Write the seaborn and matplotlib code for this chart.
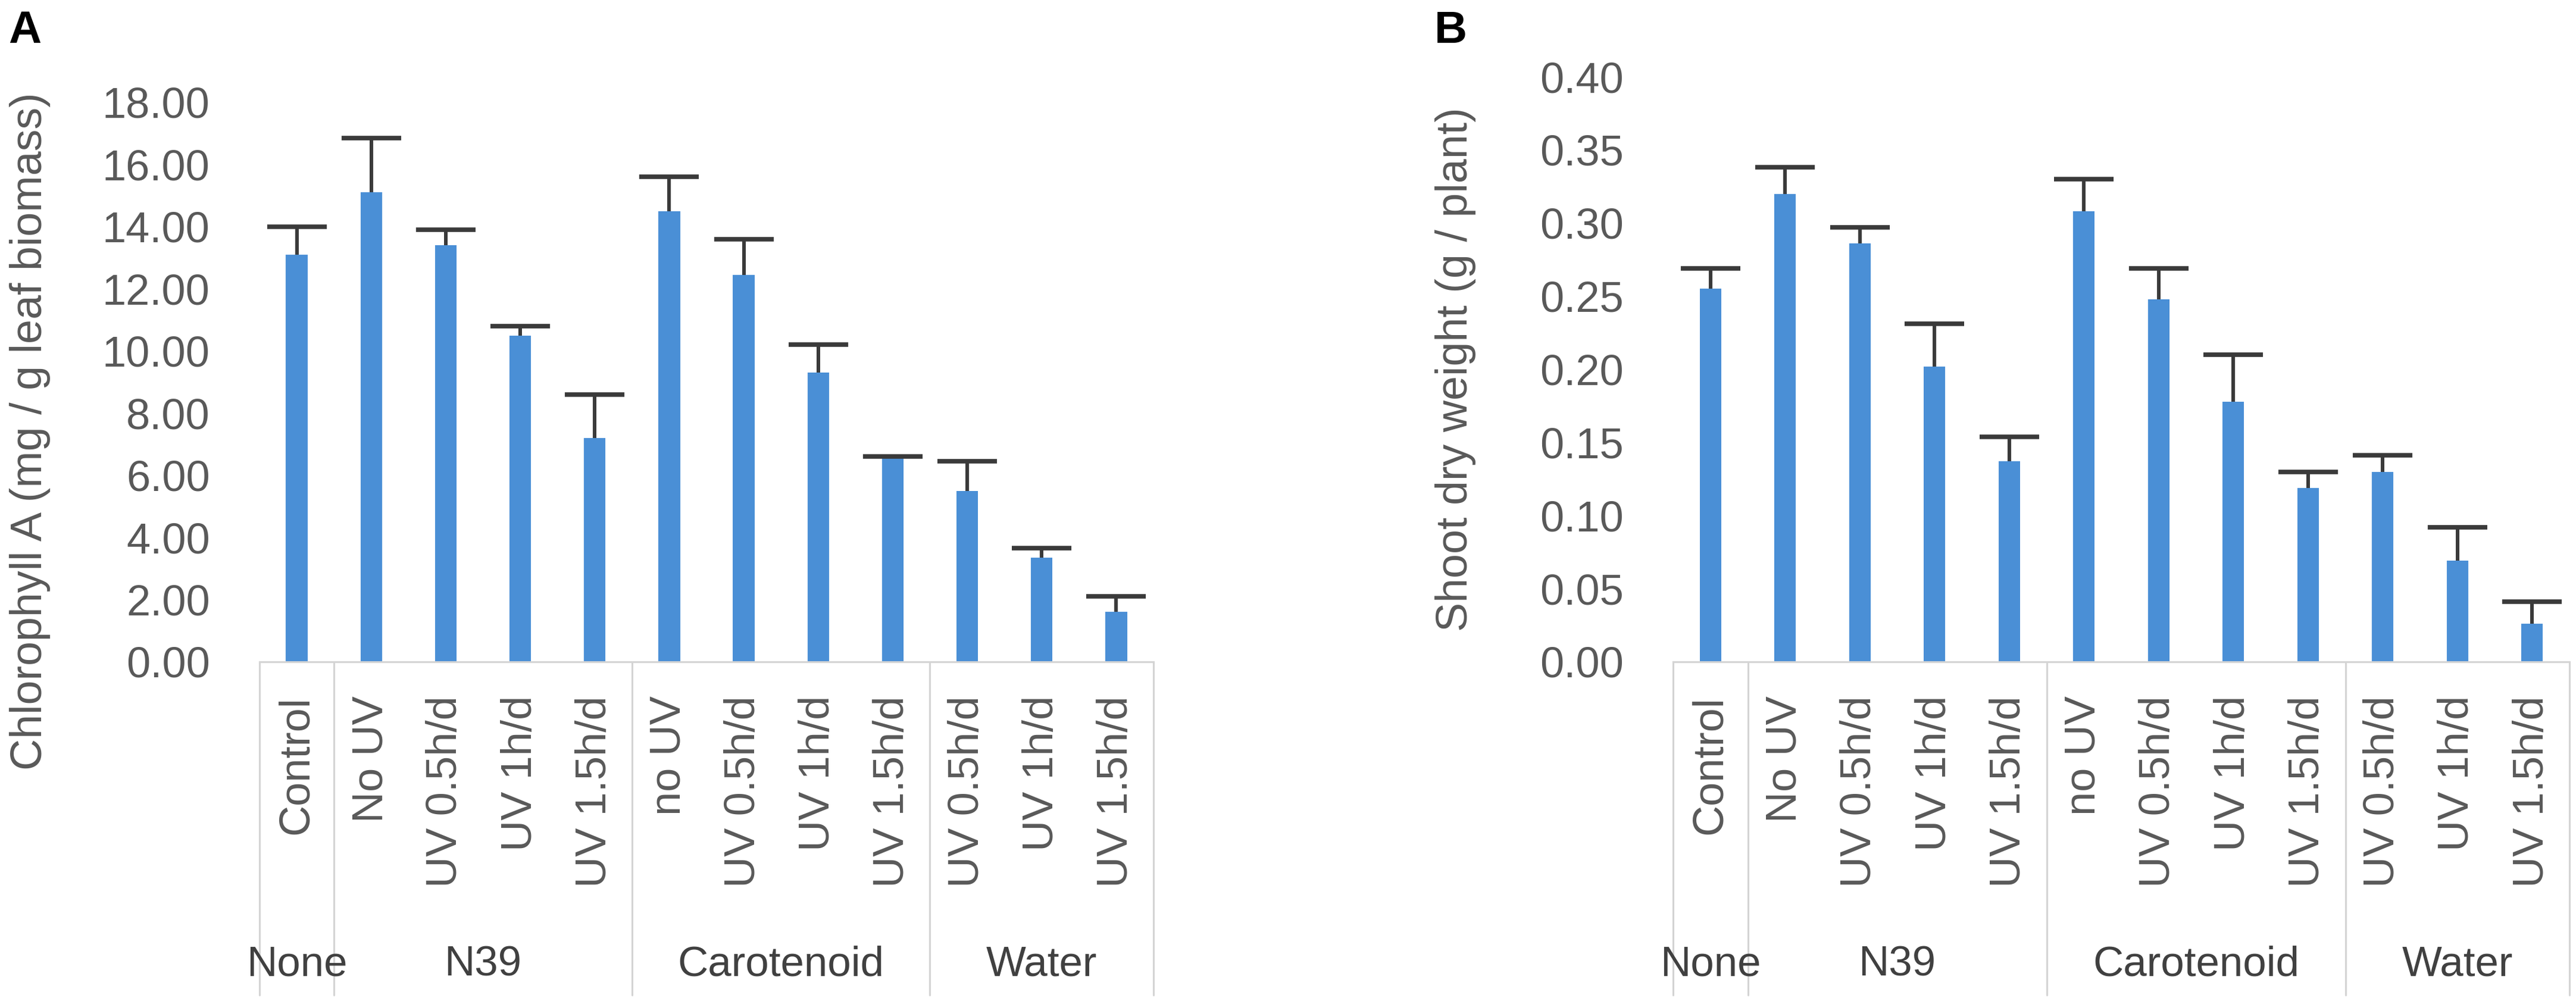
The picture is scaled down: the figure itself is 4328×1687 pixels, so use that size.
import numpy as np
import pandas as pd
import seaborn as sns
import matplotlib.pyplot as plt
from matplotlib.lines import Line2D
from matplotlib.ticker import StrMethodFormatter
from matplotlib.transforms import blended_transform_factory

# data
groups = ["None", "N39", "N39", "N39", "N39",
          "Carotenoid", "Carotenoid", "Carotenoid", "Carotenoid",
          "Water", "Water", "Water"]
treatments = ["Control", "No UV", "UV 0.5h/d", "UV 1h/d", "UV 1.5h/d",
              "no UV", "UV 0.5h/d", "UV 1h/d", "UV 1.5h/d",
              "UV 0.5h/d", "UV 1h/d", "UV 1.5h/d"]
chl_mean = [13.1, 15.1, 13.4, 10.5, 7.2, 14.5, 12.45, 9.3, 6.55, 5.5, 3.35, 1.6]
chl_err = [0.9, 1.75, 0.5, 0.3, 1.4, 1.1, 1.15, 0.9, 0.05, 0.95, 0.3, 0.5]
shoot_mean = [0.255, 0.320, 0.286, 0.202, 0.137, 0.308, 0.248, 0.178, 0.119, 0.130, 0.069, 0.026]
shoot_err = [0.014, 0.018, 0.011, 0.029, 0.017, 0.022, 0.021, 0.032, 0.011, 0.011, 0.023, 0.015]

keys = [f"{g} | {t}" for g, t in zip(groups, treatments)]

sns.set_theme(style="white")
plt.rcParams["font.family"] = ["Liberation Sans", "DejaVu Sans"]

W, H = 4328, 1687
fig = plt.figure(figsize=(W / 100, H / 100), dpi=100)

bar_color = "#4A8FD6"
grid_gray = "#d4d4d4"
text_gray = "#595959"


def panel(rect, mean, err, ylim, step, ylabel, label_xy, letter, letter_x):
    ax = fig.add_axes(rect)
    df = pd.DataFrame({"key": keys, "value": mean})
    sns.barplot(data=df, x="key", y="value", order=keys, color=bar_color,
                width=0.29, linewidth=0, saturation=1, errorbar=None, ax=ax)
    n = len(keys)
    # only the plus side of the error bar, like the spreadsheet chart
    eb = ax.errorbar(np.arange(n), mean, yerr=[np.zeros(n), err], fmt="none",
                     ecolor="#3a3a3a", elinewidth=4.3, capsize=36, capthick=5.5, zorder=3)
    for cap in eb[1]:
        if np.allclose(cap.get_ydata(), mean):
            cap.set_visible(False)

    ax.set_xlim(-0.5, n - 0.5)
    ax.set_ylim(0, ylim)
    ax.set_yticks(np.arange(0, ylim + step / 2, step))
    ax.yaxis.set_major_formatter(StrMethodFormatter("{x:.2f}"))
    ax.tick_params(axis="y", length=0, pad=60, labelsize=52, labelcolor=text_gray)
    ax.set_xticks(np.arange(n))
    ax.set_xticklabels(treatments, rotation=90, ha="center", va="top")
    ax.tick_params(axis="x", length=0, pad=41, labelsize=52, labelcolor=text_gray)

    ax.set_xlabel("")
    ax.set_ylabel(ylabel, fontsize=53, color=text_gray)
    ax.yaxis.set_label_coords(*label_xy)

    for s in ["left", "top", "right"]:
        ax.spines[s].set_visible(False)
    ax.spines["bottom"].set_color(grid_gray)
    ax.spines["bottom"].set_linewidth(2.2)

    # second level of the category axis
    tr = blended_transform_factory(ax.transData, fig.transFigure)
    y0 = rect[1]
    bounds = [-0.5] + [i - 0.5 for i in range(1, n) if groups[i] != groups[i - 1]] + [n - 0.5]
    for b in bounds:
        ax.add_line(Line2D([b, b], [y0, 1 - 1672 / H], transform=tr,
                           color=grid_gray, lw=2.2, clip_on=False))
    seen = []
    for g in groups:
        if g not in seen:
            seen.append(g)
    for g in seen:
        idx = [i for i, gg in enumerate(groups) if gg == g]
        ax.text(np.mean(idx), 1 - 1621 / H, g, transform=tr, ha="center",
                va="center", fontsize=51, color="#404040")

    fig.text(letter_x, 1 - 17 / H, letter, ha="left", va="top",
             fontsize=55, fontweight="bold", color="black")
    return ax


panel([436 / W, 1 - 1112 / H, 1502 / W, 940 / H], chl_mean, chl_err, 18, 2,
      "Chlorophyll A (mg / g leaf biomass)", (-0.234, 0.412), "A", 14 / W)
panel([2811 / W, 1 - 1112 / H, 1506 / W, 983 / H], shoot_mean, shoot_err, 0.40, 0.05,
      "Shoot dry weight (g / plant)", (-0.22, 0.4995), "B", 2410 / W)

fig.savefig("out.png", dpi=100)
